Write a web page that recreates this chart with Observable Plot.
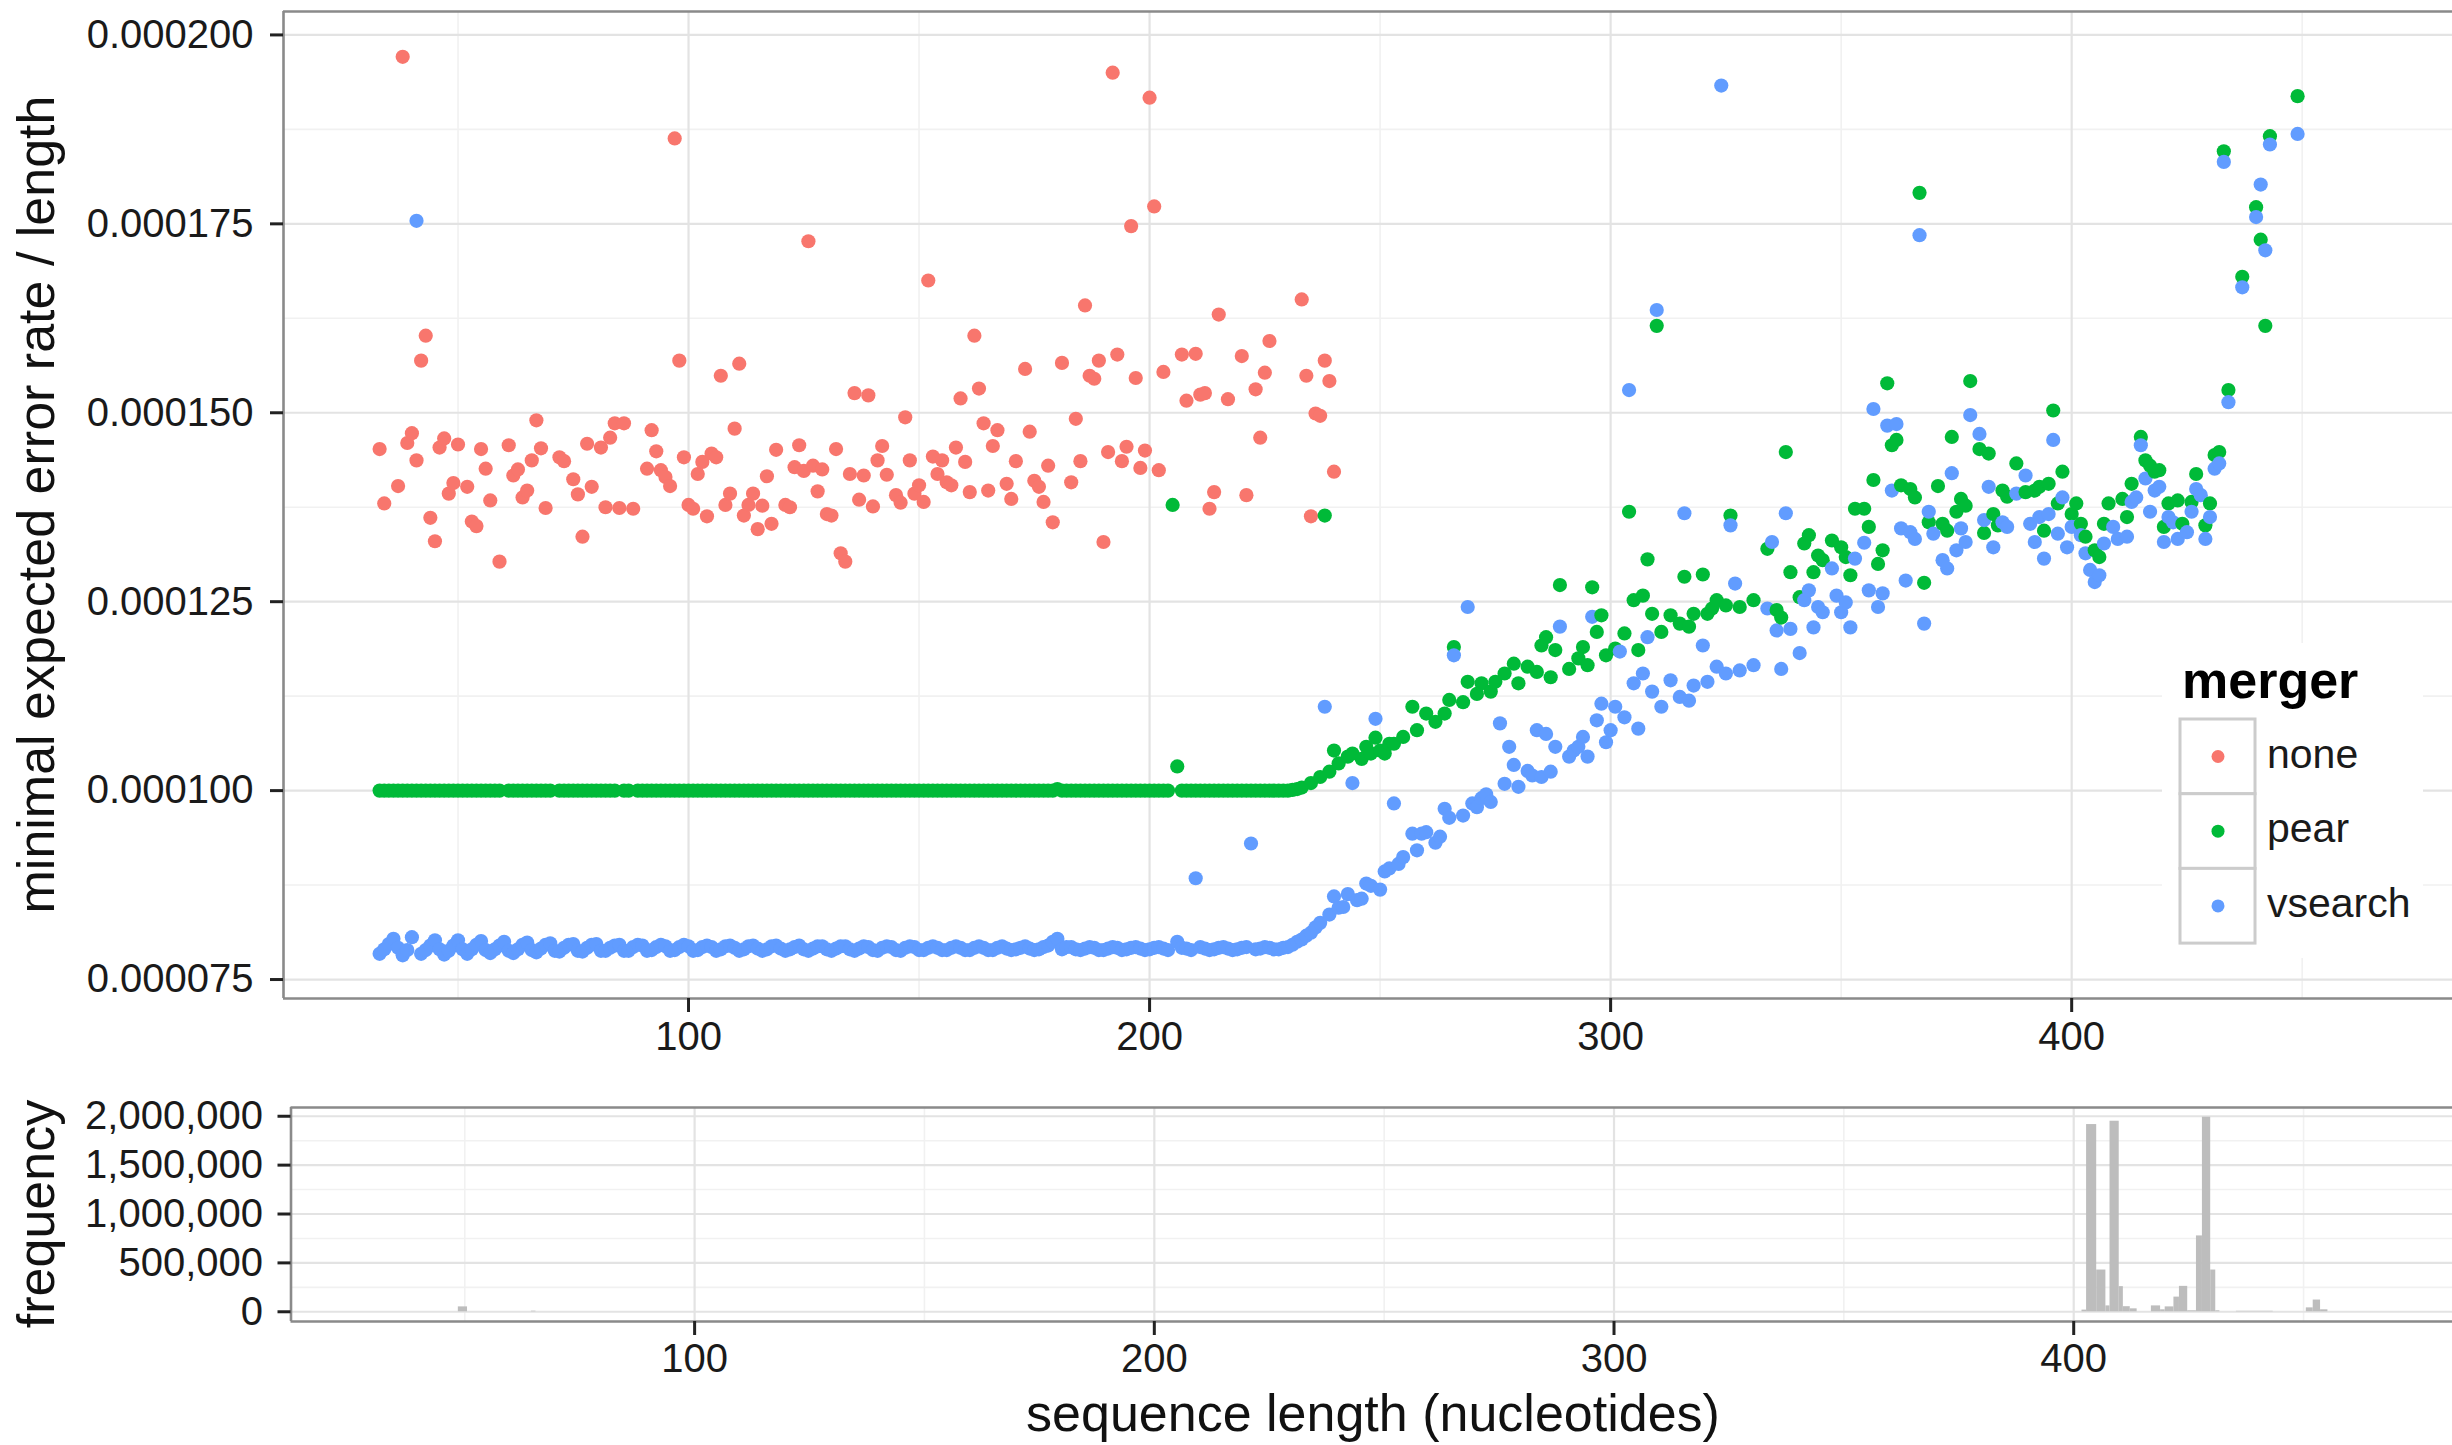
<!DOCTYPE html>
<html><head><meta charset="utf-8">
<script src="https://cdn.jsdelivr.net/npm/d3@7"></script>
<script src="https://cdn.jsdelivr.net/npm/@observablehq/plot@0.6"></script>
<style>
html,body{margin:0;padding:0;background:#fff;overflow:hidden;}
#fig{position:relative;width:2452px;height:1445px;overflow:hidden;background:#fff;font-family:"Liberation Sans",Arial,Helvetica,sans-serif;}
#fig > svg{position:absolute;left:0;}
</style></head><body><div id="fig"></div>
<script>
// ---------------- data (error rate values in units of 1e-6) ----------------
const mergers = ["none", "pear", "vsearch"];
const mergerColors = ["#F8766D", "#00BA38", "#619CFF"];

const noneData = [[33,145.2],[34,138.0],[37,140.3],[38,197.1],[39,146.0],[40,147.3],[41,143.7],[42,156.9],[43,160.2],[44,136.1],[45,133.0],[46,145.4],[47,146.6],[48,139.3],[49,140.7],[50,145.8],[52,140.2],[53,135.6],[54,135.0],[55,145.2],[56,142.6],[57,138.4],[59,130.3],[61,145.7],[62,141.7],[63,142.5],[64,138.8],[65,139.7],[66,143.7],[67,149.0],[68,145.3],[69,137.4],[72,144.1],[73,143.6],[75,141.2],[76,139.2],[77,133.6],[78,145.9],[79,140.2],[81,145.4],[82,137.5],[83,146.7],[84,148.6],[85,137.4],[86,148.6],[88,137.3],[91,142.6],[92,147.7],[93,144.9],[94,142.4],[95,141.5],[96,140.3],[97,186.3],[98,156.9],[99,144.1],[100,137.8],[101,137.3],[102,141.9],[103,143.5],[104,136.3],[105,144.6],[106,144.1],[107,154.9],[108,137.8],[109,139.3],[110,147.9],[111,156.5],[112,136.4],[113,137.8],[114,139.3],[115,134.6],[116,137.7],[117,141.6],[118,135.3],[119,145.1],[121,137.8],[122,137.5],[123,142.8],[124,145.7],[125,142.3],[126,172.7],[127,143.0],[128,139.6],[129,142.5],[130,136.6],[131,136.4],[132,145.2],[133,131.4],[134,130.3],[135,141.9],[136,152.6],[137,138.5],[138,141.7],[139,152.3],[140,137.6],[141,143.7],[142,145.6],[143,141.8],[145,139.1],[146,138.1],[147,149.4],[148,143.7],[149,139.3],[150,140.4],[151,138.2],[152,167.5],[153,144.2],[154,141.9],[155,143.7],[156,140.8],[157,140.4],[158,145.4],[159,151.9],[160,143.5],[161,139.5],[162,160.2],[163,153.2],[164,148.6],[165,139.7],[166,145.6],[167,147.7],[169,140.6],[170,138.6],[171,143.6],[173,155.8],[174,147.5],[175,141.0],[176,140.2],[177,138.2],[178,143.0],[179,135.5],[181,156.6],[183,140.8],[184,149.2],[185,143.6],[186,164.2],[187,154.9],[188,154.5],[189,156.9],[190,132.9],[191,144.8],[192,195.0],[193,157.7],[194,143.6],[195,145.5],[196,174.7],[197,154.6],[198,142.7],[199,145.0],[200,191.7],[201,177.3],[202,142.4],[203,155.4],[207,157.7],[208,151.6],[210,157.8],[211,152.4],[212,152.6],[213,137.3],[214,139.5],[215,163.0],[217,151.8],[220,157.5],[221,139.1],[223,153.1],[224,146.7],[225,155.3],[226,159.5],[233,165.0],[234,154.9],[235,136.3],[236,149.9],[237,149.6],[238,156.9],[239,154.2],[240,142.2]];

const pearData = [[33,100],[34,100],[35,100],[36,100],[37,100],[38,100],[39,100],[40,100],[41,100],[42,100],[43,100],[44,100],[45,100],[46,100],[47,100],[48,100],[49,100],[50,100],[51,100],[52,100],[53,100],[54,100],[55,100],[56,100],[57,100],[58,100],[59,100],[61,100],[62,100],[63,100],[64,100],[65,100],[66,100],[67,100],[68,100],[69,100],[70,100],[72,100],[73,100],[74,100],[75,100],[76,100],[77,100],[78,100],[79,100],[80,100],[81,100],[82,100],[83,100],[84,100],[86,100],[87,100],[89,100],[90,100],[91,100],[92,100],[93,100],[94,100],[95,100],[96,100],[97,100],[98,100],[99,100],[100,100],[101,100],[102,100],[103,100],[104,100],[105,100],[106,100],[107,100],[108,100],[109,100],[110,100],[111,100],[112,100],[113,100],[114,100],[115,100],[116,100],[117,100],[118,100],[119,100],[120,100],[121,100],[122,100],[123,100],[124,100],[125,100],[126,100],[127,100],[128,100],[129,100],[130,100],[131,100],[132,100],[133,100],[134,100],[135,100],[136,100],[137,100],[138,100],[139,100],[140,100],[141,100],[142,100],[143,100],[144,100],[145,100],[146,100],[147,100],[148,100],[149,100],[150,100],[151,100],[152,100],[153,100],[154,100],[155,100],[156,100],[157,100],[158,100],[159,100],[160,100],[161,100],[162,100],[163,100],[164,100],[165,100],[166,100],[167,100],[168,100],[169,100],[170,100],[171,100],[172,100],[173,100],[174,100],[175,100],[176,100],[177,100],[178,100],[179,100],[180,100.2],[181,100],[182,100],[183,100],[184,100],[185,100],[186,100],[187,100],[188,100],[189,100],[190,100],[191,100],[192,100],[193,100],[194,100],[195,100],[196,100],[197,100],[198,100],[199,100],[200,100],[201,100],[202,100],[203,100],[204,100],[205,137.8],[206,103.2],[207,100],[208,100],[209,100],[210,100],[211,100],[212,100],[213,100],[214,100],[215,100],[216,100],[217,100],[218,100],[219,100],[220,100],[221,100],[222,100],[223,100],[224,100],[225,100],[226,100],[227,100],[228,100],[229,100],[230,100],[231,100.1],[232,100.2],
[233,100.4],[235,101.0],[237,101.8],[238,136.4],[239,102.5],[240,105.3],[241,103.6],[243,104.5],[244,104.9],[246,104.2],[247,105.8],[248,104.9],[249,107.0],[250,105.3],[251,104.9],[252,106.2],[253,106.2],[255,107.1],[257,111.1],[258,108.0],[260,110.2],[262,109.1],[264,110.2],[265,112.0],[266,119.0],[268,111.7],[269,114.4],[271,112.8],[272,114.2],[274,113.1],[275,114.4],[277,115.5],[279,116.8],[280,114.2],[282,116.4],[284,115.7],[285,119.2],[286,120.3],[287,115.0],[288,118.6],[289,127.2],[291,116.1],[293,117.5],[294,119.0],[295,116.6],[296,126.9],[297,121.0],[298,123.2],[299,117.9],[301,118.8],[303,120.8],[304,136.9],[305,125.2],[306,118.6],[307,125.8],[308,130.6],[309,123.4],[310,161.5],[311,121.0],[313,123.2],[315,122.1],[316,128.3],[317,121.7],[318,123.4],[320,128.6],[321,123.4],[322,124.1],[323,125.2],[325,124.5],[326,136.4],[328,124.3],[331,125.2],[334,132.0],[336,123.9],[337,122.9],[338,144.8],[339,128.9],[341,125.6],[342,132.7],[343,133.8],[344,128.9],[345,131.1],[346,130.5],[348,133.1],[350,132.2],[351,130.9],[352,128.5],[353,137.3],[355,137.3],[356,134.9],[357,141.1],[358,130.0],[359,131.8],[360,153.9],[361,145.7],[362,146.4],[363,140.4],[365,139.9],[366,138.8],[367,179.1],[368,127.5],[369,135.5],[371,140.3],[372,135.3],[373,134.4],[374,146.8],[375,136.9],[376,138.6],[377,137.7],[378,154.2],[380,145.2],[381,134.1],[382,144.6],[383,136.6],[384,135.1],[385,139.7],[386,138.9],[388,143.3],[390,139.5],[392,139.7],[393,140.2],[394,134.4],[395,140.6],[396,150.3],[397,138.0],[398,142.2],[400,136.6],[401,138.0],[402,135.3],[403,133.6],[405,131.8],[406,130.9],[407,135.3],[408,138.0],[411,138.6],[412,136.2],[413,140.6],[415,146.8],[416,143.7],[417,143.0],[418,142.2],[419,142.4],[420,134.9],[421,138.0],[423,138.4],[424,135.3],[426,138.2],[427,141.9],[429,135.1],[430,138.0],[431,144.4],[432,144.8],[433,184.6],[434,153.0],[437,168.0],[440,177.2],[441,172.9],[442,161.5],[443,186.6],[449,191.9]];

const vsearchData = [[33,78.4],[34,79.0],[35,79.7],[36,80.4],[37,79.2],[38,78.2],[39,78.9],[40,80.6],[41,175.4],[42,78.4],[43,78.9],[44,79.5],[45,80.2],[46,79.0],[47,78.3],[48,78.8],[49,79.5],[50,80.2],[51,79.0],[52,78.4],[53,79.0],[54,79.6],[55,80.1],[56,78.9],[57,78.5],[58,79.0],[59,79.5],[60,80.0],[61,78.8],[62,78.5],[63,79.0],[64,79.6],[65,79.9],[66,78.9],[67,78.6],[68,79.1],[69,79.6],[70,79.8],[71,78.8],[72,78.7],[73,79.2],[74,79.6],[75,79.7],[76,78.8],[77,78.7],[78,79.2],[79,79.6],[80,79.7],[81,78.8],[82,78.8],[83,79.2],[84,79.5],[85,79.6],[86,78.8],[87,78.8],[88,79.3],[89,79.6],[90,79.5],[91,78.8],[92,78.9],[93,79.3],[94,79.6],[95,79.4],[96,78.8],[97,78.9],[98,79.3],[99,79.6],[100,79.4],[101,78.8],[102,78.9],[103,79.3],[104,79.5],[105,79.3],[106,78.8],[107,79.0],[108,79.4],[109,79.5],[110,79.2],[111,78.8],[112,79.0],[113,79.4],[114,79.5],[115,79.1],[116,78.8],[117,79.0],[118,79.4],[119,79.5],[120,79.1],[121,78.8],[122,79.0],[123,79.3],[124,79.5],[125,79.0],[126,78.8],[127,79.1],[128,79.4],[129,79.4],[130,79.0],[131,78.8],[132,79.1],[133,79.4],[134,79.4],[135,79.0],[136,78.8],[137,79.1],[138,79.4],[139,79.3],[140,78.9],[141,78.8],[142,79.2],[143,79.4],[144,79.3],[145,78.9],[146,78.8],[147,79.2],[148,79.4],[149,79.3],[150,78.9],[151,78.9],[152,79.2],[153,79.4],[154,79.2],[155,78.9],[156,78.9],[157,79.2],[158,79.4],[159,79.2],[160,78.9],[161,78.9],[162,79.2],[163,79.4],[164,79.2],[165,78.9],[166,78.9],[167,79.2],[168,79.4],[169,79.1],[170,78.9],[171,79.0],[172,79.2],[173,79.4],[174,79.1],[175,78.9],[176,79.0],[177,79.3],[178,79.5],[179,80.0],[180,80.4],[181,79.0],[182,79.3],[183,79.3],[184,79.0],[185,78.9],[186,79.1],[187,79.3],[188,79.2],[189,78.9],[190,78.9],[191,79.1],[192,79.3],[193,79.2],[194,78.9],[195,79.0],[196,79.2],[197,79.3],[198,79.1],[199,78.9],[200,79.0],[201,79.2],[202,79.3],[203,79.1],[204,78.9],[206,80.0],[207,79.2],[208,79.1],[209,78.9],[210,88.4],[211,79.3],[212,79.1],[213,78.9],[214,79.0],[215,79.2],[216,79.3],[217,79.1],[218,78.9],[219,79.0],[220,79.2],[221,79.3],[222,93.0],[223,79.0],[224,79.1],[225,79.3],[226,79.2],[227,79.0],[228,79.0],[229,79.2],[230,79.3],[231,79.6],
[232,80.0],[233,80.3],[234,80.8],[235,81.2],[236,81.9],[237,82.5],[238,111.1],[239,83.6],[240,86.0],[241,84.5],[242,84.6],[243,86.3],[244,101.0],[245,85.5],[246,85.7],[247,87.7],[248,87.4],[249,109.5],[250,86.9],[251,89.3],[252,89.7],[253,98.3],[254,90.3],[255,91.2],[257,94.3],[258,92.1],[259,94.3],[260,94.5],[262,93.1],[263,93.9],[264,97.6],[265,96.4],[266,117.9],[268,96.7],[269,124.3],[270,98.3],[271,97.8],[272,99.0],[273,99.5],[274,98.5],[276,108.9],[277,100.9],[278,105.8],[279,103.4],[280,100.5],[282,102.6],[283,102.0],[284,108.0],[285,101.8],[286,107.5],[287,102.5],[288,105.8],[289,121.7],[291,104.5],[292,105.3],[293,105.8],[294,107.1],[295,104.5],[296,123.0],[297,109.3],[298,111.5],[299,106.4],[300,108.0],[301,111.1],[302,118.4],[303,109.7],[304,153.0],[305,114.2],[306,108.2],[307,115.5],[308,120.3],[309,113.1],[310,163.6],[311,111.1],[313,114.6],[315,112.4],[316,136.7],[317,111.9],[318,113.9],[320,119.2],[321,114.4],[323,116.4],[324,193.3],[325,115.5],[326,135.1],[327,127.4],[328,115.9],[331,116.6],[334,124.1],[335,132.9],[336,121.2],[337,116.1],[338,136.7],[339,121.4],[341,118.2],[342,125.2],[343,126.5],[344,121.6],[345,124.3],[346,123.6],[348,129.4],[349,125.8],[350,123.6],[351,124.9],[352,121.6],[353,130.7],[355,132.8],[356,126.5],[357,150.5],[358,124.3],[359,126.1],[360,148.3],[361,139.7],[362,148.5],[363,134.7],[364,127.8],[365,134.2],[366,133.3],[367,173.5],[368,122.1],[369,136.9],[370,134.0],[372,130.5],[373,129.4],[374,142.0],[375,131.8],[376,134.7],[377,132.9],[378,149.7],[380,147.2],[381,135.8],[382,140.2],[383,132.2],[385,135.5],[386,134.9],[388,139.3],[390,141.7],[391,135.3],[392,132.9],[393,136.2],[394,130.7],[395,136.6],[396,146.4],[397,134.0],[398,138.8],[399,132.2],[400,134.9],[402,133.8],[403,131.4],[404,129.2],[405,127.6],[406,128.5],[407,132.7],[409,134.9],[410,133.3],[412,133.6],[413,138.2],[414,138.8],[415,145.7],[416,141.3],[417,136.9],[418,139.7],[419,140.2],[420,132.9],[421,136.2],[422,135.5],[423,133.3],[425,134.2],[426,136.9],[427,139.9],[428,139.1],[429,133.3],[430,136.2],[431,142.6],[432,143.3],[433,183.2],[434,151.4],[437,166.6],[440,175.9],[441,180.2],[442,171.5],[443,185.5],[449,186.9]];

// histogram of sequence lengths: [bin start, bin end, count]
const lengthHistogram = [[48.6,50.6,50000],[64.5,65.5,6000],[401.8,402.8,17000],[402.8,405.0,1915000],[405.0,407.0,427000],[407.0,407.9,60000],[407.9,409.9,1949000],[409.9,410.8,257000],[410.8,412.3,52000],[412.3,413.8,30000],[416.9,418.9,60000],[418.9,419.9,20000],[419.9,421.8,50000],[421.8,423.0,150000],[423.0,424.8,260000],[424.8,426.7,10000],[426.7,428.0,776000],[428.0,429.8,1990000],[429.8,430.9,427000],[430.9,431.8,10000],[435.4,443.4,5000],[450.6,452.1,40000],[452.1,453.7,120000],[453.7,455.3,20000]];

// ticks
const xMajor = [100, 200, 300, 400];
const xMinor = [50, 150, 250, 350, 450];
const yMajor = [75, 100, 125, 150, 175, 200];
const yMinor = [87.5, 112.5, 137.5, 162.5, 187.5];
const countMajor = [0, 500000, 1000000, 1500000, 2000000];
const countMinor = [250000, 750000, 1250000, 1750000];

// ---------------- build ----------------
const FONT = '"Liberation Sans", Arial, Helvetica, sans-serif';
const order = {none: 0, pear: 1, vsearch: 2};
const points = [];
[[noneData, "none"], [pearData, "pear"], [vsearchData, "vsearch"]].forEach(([arr, m]) => {
  arr.forEach(([len, val]) => points.push({len, val, merger: m}));
});
points.sort((a, b) => a.len - b.len || order[a.merger] - order[b.merger]);

const bins = lengthHistogram.map(([x1, x2, count]) => ({x1, x2, count}));

const topX = [12.15, 482.6];
const topY = [72.49, 203.1];
const botX = [12.2, 482.4];
const botY = [-99500, 2089500];

const majorGrid = {stroke: "#e3e3e3", strokeWidth: 2.2};
const minorGrid = {stroke: "#f1f1f1", strokeWidth: 1.6};
const border = {stroke: "#8a8a8a", strokeWidth: 2.6};
const tickText = {fontSize: 40, fill: "#1a1a1a", stroke: "#222", strokeWidth: 3, label: null};

const topPlot = Plot.plot({
  width: 2452, height: 1075,
  marginLeft: 283, marginRight: 0, marginTop: 11, marginBottom: 77,
  x: {domain: topX},
  y: {domain: topY},
  color: {domain: mergers, range: mergerColors},
  style: {fontFamily: FONT, fontSize: "40px", color: "#1a1a1a", background: "transparent", overflow: "visible"},
  marks: [
    Plot.ruleY(yMinor, minorGrid),
    Plot.ruleX(xMinor, minorGrid),
    Plot.ruleY(yMajor, majorGrid),
    Plot.ruleX(xMajor, majorGrid),
    Plot.dot(points, {x: "len", y: "val", fill: "merger", r: 7.1, stroke: null}),
    Plot.ruleY([topY[1]], border),
    Plot.ruleY([topY[0]], border),
    Plot.ruleX([topX[0]], border),
    Plot.axisY({ticks: yMajor, tickSize: 13, tickPadding: 17, tickFormat: d => (d * 1e-6).toFixed(6), ...tickText}),
    Plot.axisX({ticks: xMajor, tickSize: 14, tickPadding: 9, tickFormat: d => String(d), ...tickText})
  ]
});

const botPlot = Plot.plot({
  width: 2452, height: 370,
  marginLeft: 290.5, marginRight: 0, marginTop: 32, marginBottom: 124,
  x: {domain: botX},
  y: {domain: botY},
  style: {fontFamily: FONT, fontSize: "40px", color: "#1a1a1a", background: "transparent", overflow: "visible"},
  marks: [
    Plot.ruleY(countMinor, minorGrid),
    Plot.ruleX(xMinor, minorGrid),
    Plot.ruleY(countMajor, majorGrid),
    Plot.ruleX(xMajor, majorGrid),
    Plot.rectY(bins, {x1: "x1", x2: "x2", y: "count", fill: "#bdbdbd"}),
    Plot.ruleY([botY[1]], border),
    Plot.ruleY([botY[0]], border),
    Plot.ruleX([botX[0]], border),
    Plot.axisY({ticks: countMajor, tickSize: 13, tickPadding: 15, tickFormat: d3.format(","), ...tickText}),
    Plot.axisX({ticks: xMajor, tickSize: 14, tickPadding: 8, tickFormat: d => String(d), ...tickText})
  ]
});

const fig = document.getElementById("fig");
topPlot.style.top = "0px";
botPlot.style.top = "1075px";
fig.appendChild(topPlot);
fig.appendChild(botPlot);

// axis titles
d3.select(topPlot).append("text")
  .attr("transform", "translate(54,504.5) rotate(-90)")
  .attr("text-anchor", "middle").attr("font-size", 52).attr("fill", "#111")
  .attr("font-family", FONT)
  .text("minimal expected error rate / length");
d3.select(botPlot).append("text")
  .attr("transform", "translate(54,139) rotate(-90)")
  .attr("text-anchor", "middle").attr("font-size", 52).attr("fill", "#111")
  .attr("font-family", FONT)
  .text("frequency");
d3.select(botPlot).append("text")
  .attr("x", 1373).attr("y", 356)
  .attr("text-anchor", "middle").attr("font-size", 52).attr("fill", "#111")
  .attr("font-family", FONT)
  .text("sequence length (nucleotides)");

// legend
const colorScale = topPlot.scale("color");
const leg = d3.select(fig).append("svg")
  .attr("width", 302).attr("height", 340)
  .style("left", "2150px").style("top", "630px").style("position", "absolute")
  .attr("font-family", FONT);
leg.append("rect").attr("x", 12).attr("y", 13).attr("width", 261).attr("height", 315).attr("fill", "#fff");
leg.append("text").attr("x", 32).attr("y", 68).attr("font-size", 52).attr("font-weight", "bold").attr("fill", "#000").text("merger");
mergers.forEach((m, i) => {
  const y0 = 89 + i * 74.7;
  leg.append("rect").attr("x", 30).attr("y", y0).attr("width", 75).attr("height", 74.7)
    .attr("fill", "#fff").attr("stroke", "#cccccc").attr("stroke-width", 3);
  leg.append("circle").attr("cx", 68).attr("cy", y0 + 37.5).attr("r", 6.5)
    .attr("fill", colorScale.apply(m));
  leg.append("text").attr("x", 117).attr("y", y0 + 37.5 + 11).attr("font-size", 41).attr("fill", "#1a1a1a").text(m);
});
</script></body></html>
